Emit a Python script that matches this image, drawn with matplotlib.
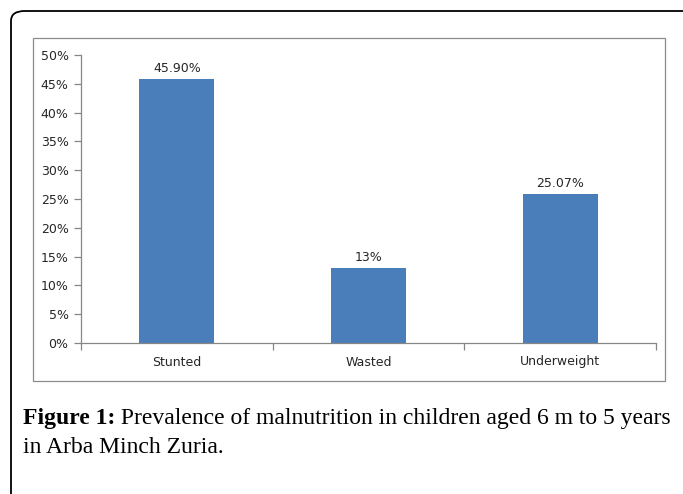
import matplotlib.pyplot as plt
import matplotlib.patches as patches
from matplotlib.ticker import FixedLocator

categories = ["Stunted", "Wasted", "Underweight"]
# bar heights as drawn in the picture; the labels are the printed values
values = [45.9, 13.0, 25.9]
value_labels = ["45.90%", "13%", "25.07%"]
y_ticks = [0, 5, 10, 15, 20, 25, 30, 35, 40, 45, 50]

W, H = 683, 494
fig = plt.figure(figsize=(W / 100, H / 100), dpi=100)

# outer rounded frame (runs off right and bottom edge)
outer = patches.FancyBboxPatch((11 / W, -0.05), (W + 20) / W, 1 - 11 / H + 0.05,
                               boxstyle="round,pad=0,rounding_size=0.02",
                               transform=fig.transFigure, facecolor="none",
                               edgecolor="black", linewidth=1.3)
fig.patches.append(outer)

# chart area box
inner = patches.Rectangle((33 / W, 1 - 381 / H), (665 - 33) / W, (381 - 38) / H,
                          transform=fig.transFigure, facecolor="none",
                          edgecolor="#8c8c8c", linewidth=0.9)
fig.patches.append(inner)

ax = fig.add_axes([81 / W, 1 - 343 / H, (656 - 81) / W, (343 - 55) / H])
x = range(len(categories))
ax.bar(x, values, width=0.39, color="#4a7ebb", zorder=2)

for xi, v, lab in zip(x, values, value_labels):
    ax.text(xi, v + 0.7, lab, ha="center", va="bottom", fontsize=9,
            color="#262626", family="DejaVu Sans")

ax.set_xlim(-0.5, len(categories) - 0.5)
ax.set_ylim(0, 50)
ax.set_yticks(y_ticks)
ax.set_yticklabels([f"{t}%" for t in y_ticks])
ax.set_xticks(list(x))
ax.set_xticklabels(categories)
ax.xaxis.set_minor_locator(FixedLocator([i - 0.5 for i in range(len(categories) + 1)]))

for s in ["top", "right"]:
    ax.spines[s].set_visible(False)
for s in ["left", "bottom"]:
    ax.spines[s].set_color("#868686")
    ax.spines[s].set_linewidth(0.9)

ax.tick_params(axis="y", length=5, width=0.9, color="#868686", labelsize=9,
               labelcolor="#262626", pad=4)
ax.tick_params(axis="x", which="major", length=0, labelsize=9,
               labelcolor="#262626", pad=9)
ax.tick_params(axis="x", which="minor", length=5, width=0.9, color="#868686")

# caption: bold "Figure 1:" followed by the plain text
cap = 17
t1 = fig.text(23 / W, 1 - 424 / H, "Figure 1:", fontsize=cap, fontweight="bold",
              family="Liberation Serif", va="baseline", ha="left")
fig.canvas.draw()
bb = t1.get_window_extent()
fig.text(bb.x1 / W, 1 - 424 / H,
         " Prevalence of malnutrition in children aged 6 m to 5 years",
         fontsize=cap, family="Liberation Serif", va="baseline", ha="left")
fig.text(23 / W, 1 - 453 / H, "in Arba Minch Zuria.", fontsize=cap,
         family="Liberation Serif", va="baseline", ha="left")

fig.savefig("out.png", dpi=100)
